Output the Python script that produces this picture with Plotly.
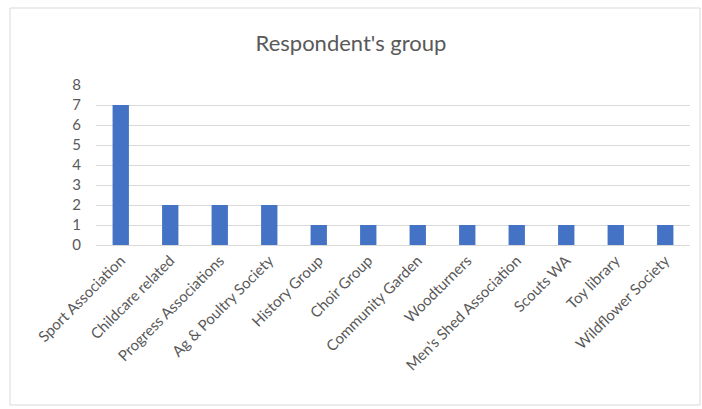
import plotly.graph_objects as go

# Survey responses by community group
groups = [
    "Sport Association", "Childcare related", "Progress Associations",
    "Ag & Poultry Society", "History Group", "Choir Group",
    "Community Garden", "Woodturners", "Men's Shed Association",
    "Scouts WA", "Toy library", "Wildflower Society",
]
counts = [7, 2, 2, 2, 1, 1, 1, 1, 1, 1, 1, 1]
y_ticks = [0, 1, 2, 3, 4, 5, 6, 7, 8]

FONT = "Lato, 'Open Sans', sans-serif"
GREY = "#595959"

fig = go.Figure(
    go.Bar(
        x=groups,
        y=counts,
        marker=dict(color="#4472C4", line=dict(width=0)),
        width=0.33,
    )
)

fig.update_layout(
    width=702,
    height=409,
    margin=dict(l=96, r=12, t=85, b=164),
    paper_bgcolor="white",
    plot_bgcolor="white",
    showlegend=False,
    title=dict(
        text="Respondent's group",
        x=0.5,
        xref="container",
        y=1 - 43 / 409,
        yref="container",
        xanchor="center",
        yanchor="middle",
        font=dict(family=FONT, size=22, color=GREY),
    ),
    xaxis=dict(
        tickangle=-45,
        tickfont=dict(family=FONT, size=15, color=GREY),
        showgrid=False,
        showline=True,
        linecolor="#d9d9d9",
        linewidth=1,
        ticks="",
    ),
    yaxis=dict(
        range=[0, 8],
        tickvals=y_ticks,
        tickfont=dict(family=FONT, size=15, color=GREY),
        showgrid=True,
        gridcolor="#d9d9d9",
        gridwidth=1,
        zeroline=False,
        showline=False,
        ticks="",
        ticklabelstandoff=14,
    ),
    shapes=[
        dict(
            type="rect",
            xref="paper",
            yref="paper",
            x0=(10 - 96) / 594,
            x1=(700 - 96) / 594,
            y0=(245 - 405) / 160,
            y1=(245 - 8) / 160,
            line=dict(color="#d9d9d9", width=1),
            fillcolor="rgba(0,0,0,0)",
            layer="below",
        )
    ],
)

fig.write_html("out.html")
